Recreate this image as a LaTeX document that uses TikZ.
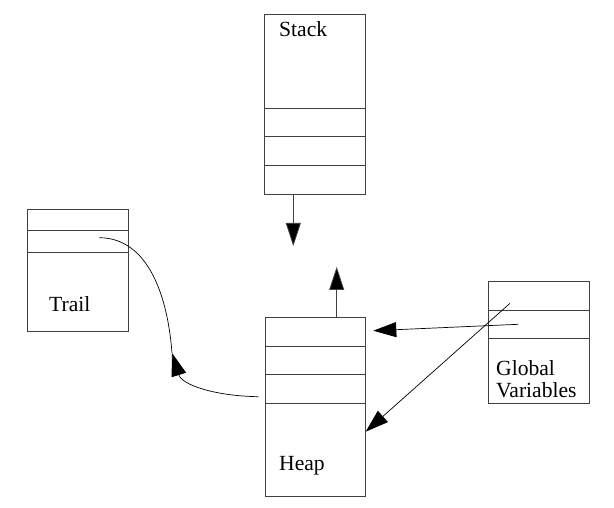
\documentclass[tikz,border=0pt]{standalone}
\usepackage{fontspec}
\newfontfamily\timesfont{LiberationSerif-Regular.ttf}
\usetikzlibrary{arrows.meta}
\begin{document}
\begin{tikzpicture}[x=1pt,y=-1pt,
  box/.style={draw=black!75,line width=0.8pt,rectangle,inner sep=0pt},
  sep/.style={draw=black!75,line width=0.8pt},
  lbl/.style={font=\timesfont\fontsize{21.6}{23}\selectfont,anchor=base west,inner sep=0pt},
  conn/.style={draw=black,line width=0.7pt},
  arr/.style={conn,-{Triangle[length=23pt,width=15pt,fill=black]}}]
\useasboundingbox (0,0) rectangle (614,508);
% Stack
\node[box,minimum width=101.4pt,minimum height=179.7pt] (stack) at (315,104.2) {};
\draw[sep] (264.3,108.3) -- (365.7,108.3) (264.3,136.7) -- (365.7,136.7) (264.3,165.7) -- (365.7,165.7);
\node[lbl] (stacklbl) at (279,37) {Stack};
% Trail
\node[box,minimum width=101pt,minimum height=122pt] (trail) at (77.8,270) {};
\draw[sep] (27.3,230.7) -- (128.3,230.7) (27.3,252.3) -- (128.3,252.3);
\node[lbl] (traillbl) at (49,312) {Trail};
% Heap
\node[box,minimum width=100.7pt,minimum height=179.4pt] (heap) at (315.35,407) {};
\draw[sep] (265,346) -- (365.7,346) (265,374.7) -- (365.7,374.7) (265,403.3) -- (365.7,403.3);
\node[lbl] (heaplbl) at (279,470) {Heap};
% Global Variables
\node[box,minimum width=101pt,minimum height=122.3pt] (glob) at (538.8,342.15) {};
\draw[sep] (488.3,310) -- (589.3,310) (488.3,338.3) -- (589.3,338.3);
\node[lbl] (globlbl1) at (496,375) {Global};
\node[lbl] (globlbl2) at (496,397) {Variables};
% connector end points
\coordinate (stackout) at (293.3,194);
\coordinate (stacktip) at (293.3,246);
\coordinate (heapout) at (336.7,317.3);
\coordinate (heaptip) at (336.7,267);
\coordinate (trailcell) at (99.3,237.7);
\coordinate (mid) at (172,353);
\coordinate (heapcell) at (258.3,396.7);
\coordinate (g1) at (518.3,324.3);
\coordinate (h1) at (373.3,330.7);
\coordinate (g2) at (510,303.3);
\coordinate (h2) at (365.7,431.7);
% connectors
\draw[arr,draw=black!75,line width=0.8pt] (stackout) -- (stacktip);
\draw[arr,draw=black!75,line width=0.8pt] (heapout) -- (heaptip);
\draw[conn] (trailcell) .. controls (150,238) and (168,300) .. (mid);
\draw[arr] (heapcell) .. controls (215,396) and (182,385) .. (mid);
\draw[arr] (g1) -- (h1);
\draw[arr] (g2) -- (h2);
\end{tikzpicture}
\end{document}
